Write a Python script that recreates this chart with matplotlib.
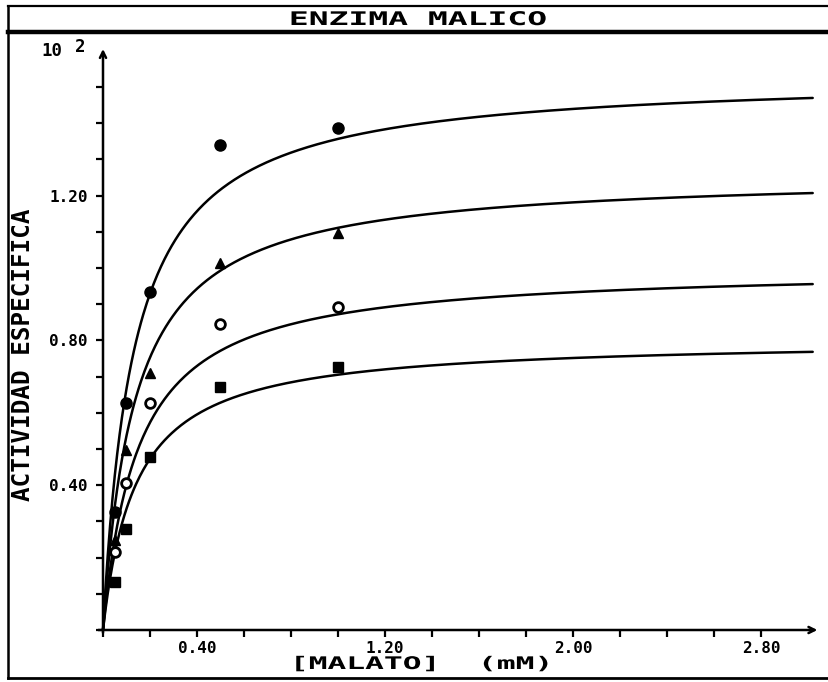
import numpy as np
import matplotlib
matplotlib.use("Agg")
import matplotlib.pyplot as plt
from matplotlib.lines import Line2D
from matplotlib.patheffects import AbstractPathEffect
from matplotlib.transforms import Affine2D

# Concentracion de malato (mM)
malato = [0.05, 0.1, 0.2, 0.5, 1.0]

# Actividad especifica (x 10^2) para cada serie
act_circulo_lleno = [0.326, 0.627, 0.934, 1.340, 1.387]
act_triangulo = [0.250, 0.497, 0.710, 1.014, 1.097]
act_circulo_vacio = [0.215, 0.406, 0.627, 0.845, 0.892]
act_cuadrado = [0.133, 0.279, 0.478, 0.671, 0.727]

# Parametros de Michaelis-Menten ajustados a cada serie
vmax = [1.533, 1.261, 1.003, 0.804]
km = [0.130, 0.135, 0.150, 0.140]

xticks_mayores = [0.40, 1.20, 2.00, 2.80]
yticks_mayores = [0.40, 0.80, 1.20]

FUENTE = "DejaVu Sans Mono"


class Ensanchar(AbstractPathEffect):
    """Dibuja el texto ensanchado horizontalmente alrededor de su centro."""

    def __init__(self, sx):
        super().__init__()
        self.sx = sx

    def draw_path(self, renderer, gc, tpath, affine, rgbFace=None):
        ext = tpath.get_extents()
        cx = 0.5 * (ext.x0 + ext.x1)
        estirar = Affine2D().translate(-cx, 0).scale(self.sx, 1.0).translate(cx, 0)
        renderer.draw_path(gc, tpath, estirar + affine, rgbFace)


W, H = 829, 682
fig = plt.figure(figsize=(W / 100, H / 100), dpi=100)

# Ejes: origen en (103, 630) px, 235 px por mM, 362 px por unidad de actividad
x0_px, y0_px = 103, 630
sx_px, sy_px = 235.0, 362.0
xmax, ymax = 3.10, 1.63
ax = fig.add_axes([x0_px / W, (H - y0_px) / H, sx_px * xmax / W, sy_px * ymax / H])
ax.set_xlim(0, xmax)
ax.set_ylim(0, ymax)
ax.patch.set_alpha(0)
for s in ax.spines.values():
    s.set_visible(False)

# Lineas de los ejes con flecha
flecha = dict(arrowstyle="->", lw=1.8, color="black", mutation_scale=11,
              shrinkA=0, shrinkB=0)
ax.annotate("", xy=(3.04, 0), xytext=(-0.02, 0), arrowprops=flecha,
            annotation_clip=False)
ax.annotate("", xy=(0, 1.605), xytext=(0, -0.008), arrowprops=flecha,
            annotation_clip=False)

# Marcas
ax.set_xticks(xticks_mayores)
ax.set_xticklabels([f"{v:.2f}" for v in xticks_mayores])
ax.set_xticks(np.arange(0, 2.81, 0.2), minor=True)
ax.set_yticks(yticks_mayores)
ax.set_yticklabels([f"{v:.2f}" for v in yticks_mayores])
ax.set_yticks(np.arange(0, 1.51, 0.1), minor=True)
ax.tick_params(which="both", direction="out", length=5, width=1.6, color="black")
ax.tick_params(axis="x", which="major", pad=3)
ax.tick_params(axis="y", which="major", pad=6)
for lab in ax.get_xticklabels() + ax.get_yticklabels():
    lab.set_fontfamily(FUENTE)
    lab.set_fontweight("bold")
    lab.set_fontsize(11.5)

# Curvas ajustadas
s = np.linspace(0, 3.02, 600)
for V, K in zip(vmax, km):
    ax.plot(s, V * s / (K + s), color="black", lw=1.8, solid_capstyle="round",
            clip_on=False)

# Puntos experimentales
ax.plot(malato, act_circulo_lleno, "o", color="black", ms=8, clip_on=False)
ax.plot(malato, act_triangulo, "^", color="black", ms=7.5, clip_on=False)
ax.plot(malato, act_circulo_vacio, "o", mfc="white", mec="black", mew=2.0,
        ms=7, clip_on=False)
ax.plot(malato, act_cuadrado, "s", color="black", ms=7, clip_on=False)


def fy(py):
    return 1 - py / H


def fx(px):
    return px / W


# Marco del grafico
marco = dict(color="black", transform=fig.transFigure)
fig.add_artist(Line2D([fx(8), fx(8)], [fy(6), fy(678)], lw=1.8, **marco))
fig.add_artist(Line2D([fx(8), fx(829)], [fy(678), fy(678)], lw=2.0, **marco))
fig.add_artist(Line2D([fx(8), fx(829)], [fy(6), fy(6)], lw=1.6, **marco))
fig.add_artist(Line2D([fx(8), fx(829)], [fy(32), fy(32)], lw=3.2, **marco))

# Titulo
fig.text(fx(418), fy(19.5), "ENZIMA MALICO", ha="center", va="center",
         family=FUENTE, weight="bold", fontsize=13.5,
         path_effects=[Ensanchar(1.76)])

# Rotulos de los ejes
fig.text(fx(422), fy(664), "[MALATO]  (mM)", ha="center", va="center",
         family=FUENTE, weight="bold", fontsize=12.5,
         path_effects=[Ensanchar(1.8)])
fig.text(fx(23), fy(355), "ACTIVIDAD ESPECIFICA", ha="center", va="center",
         rotation=90, family=FUENTE, weight="bold", fontsize=17.5)

# Factor de escala del eje vertical
fig.text(fx(52), fy(51), "10", ha="center", va="center",
         family=FUENTE, weight="bold", fontsize=12.5)
fig.text(fx(80), fy(47), "2", ha="center", va="center",
         family=FUENTE, weight="bold", fontsize=12.5)

fig.savefig("out.png", dpi=100)
